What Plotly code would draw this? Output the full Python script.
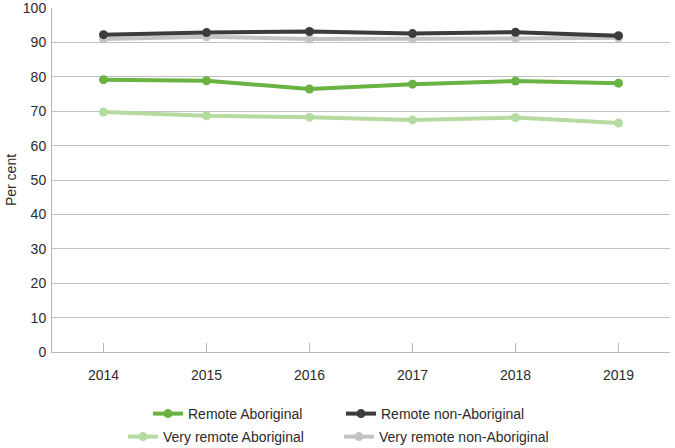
import plotly.graph_objects as go

years = ["2014", "2015", "2016", "2017", "2018", "2019"]
remote_aboriginal = [79.2, 78.9, 76.5, 77.9, 78.8, 78.2]
remote_non_aboriginal = [92.3, 92.9, 93.2, 92.6, 93.0, 92.0]
very_remote_aboriginal = [69.8, 68.7, 68.3, 67.5, 68.2, 66.6]
very_remote_non_aboriginal = [91.0, 91.7, 91.0, 91.0, 91.2, 91.4]

y_ticks = [0, 10, 20, 30, 40, 50, 60, 70, 80, 90, 100]

series = [
    ("Very remote non-Aboriginal", very_remote_non_aboriginal, "#c3c3c3", "legend5"),
    ("Very remote Aboriginal", very_remote_aboriginal, "#b5dba1", "legend4"),
    ("Remote non-Aboriginal", remote_non_aboriginal, "#3c3c3c", "legend3"),
    ("Remote Aboriginal", remote_aboriginal, "#6ab343", "legend2"),
]

fig = go.Figure()
for name, vals, color, lg in series:
    fig.add_trace(go.Scatter(
        x=years, y=vals, name=name, mode="lines+markers",
        line=dict(color=color, width=4),
        marker=dict(color=color, size=9),
        legend=lg,
    ))

W, H = 675, 448
L, R, T, B = 52, 5, 8, 96
pw, ph = W - L - R, H - T - B

def px_x(p):
    return (p - L) / pw

def px_y(p):
    return (H - B - p) / ph

font = dict(family="Liberation Sans, Arial, sans-serif", size=14, color="#2b2b2b")

def leg(xp, yp):
    return dict(x=px_x(xp), y=px_y(yp), xanchor="left", yanchor="middle",
                orientation="h", font=font, bgcolor="rgba(0,0,0,0)",
                itemwidth=30)

fig.update_layout(
    width=W, height=H,
    margin=dict(l=L, r=R, t=T, b=B, pad=0, autoexpand=False),
    paper_bgcolor="white", plot_bgcolor="white",
    font=font,
    showlegend=True,
    legend2=leg(148, 414),
    legend3=leg(341, 414),
    legend4=leg(123, 437),
    legend5=leg(339, 437),
    xaxis=dict(
        type="category", range=[-0.5, 5.5], automargin=False,
        showline=True, linecolor="#b8b8b8", linewidth=1,
        ticks="inside", ticklen=9, tickcolor="#b8b8b8",
        showgrid=False, tickfont=font, ticklabelstandoff=10,
    ),
    yaxis=dict(
        range=[0, 100.05], tickvals=y_ticks, automargin=False,
        showline=True, linecolor="#b8b8b8", linewidth=1,
        showgrid=True, gridcolor="#c0c0c0", gridwidth=1,
        ticks="", tickfont=font, zeroline=False, ticklabelstandoff=2,
        title=dict(text="Per cent", font=font, standoff=2),
    ),
)

fig.write_html("out.html", config={"displayModeBar": False},
               post_script="document.body.style.margin='0px';")
